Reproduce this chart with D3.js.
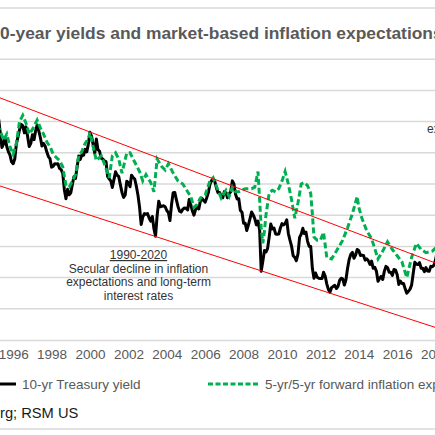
<!DOCTYPE html>
<html>
<head>
<meta charset="utf-8">
<script src="https://cdn.jsdelivr.net/npm/d3@7"></script>
<style>
  html, body { margin: 0; padding: 0; background: #fff; }
  svg { display: block; font-family: "Liberation Sans", Arial, sans-serif; }
</style>
</head>
<body>
<svg id="chart" width="435" height="435"></svg>
<script>
// 10-yr Treasury yield, monthly, starting Jan 1995
const yieldStart = "1995-01";
const treasuryYield = [
  7.78, 7.47, 7.20, 7.06, 6.63, 6.17, 6.28, 6.49, 6.20, 6.04, 5.93, 5.71,
  5.65, 5.81, 6.27, 6.51, 6.74, 6.91, 6.87, 6.64, 6.83, 6.53, 6.20, 6.30,
  6.58, 6.42, 6.69, 6.89, 6.71, 6.49, 6.22, 6.30, 6.21, 6.03, 5.88, 5.81,
  5.54, 5.57, 5.65, 5.64, 5.65, 5.50, 5.46, 5.34, 4.81, 4.53, 4.83, 4.65,
  4.72, 5.00, 5.23, 5.18, 5.54, 5.90, 5.79, 5.94, 5.92, 6.11, 6.03, 6.28,
  6.66, 6.52, 6.26, 5.99, 6.44, 6.10, 6.05, 5.83, 5.80, 5.74, 5.72, 5.24,
  5.16, 5.10, 4.89, 5.14, 5.39, 5.28, 5.24, 4.97, 4.73, 4.57, 4.65, 5.09,
  5.04, 4.91, 5.28, 5.21, 5.16, 4.93, 4.65, 4.26, 3.70, 3.94, 4.05, 4.03,
  4.05, 3.90, 3.81, 3.96, 3.57, 3.33, 3.98, 4.45, 4.27, 4.29, 4.30, 4.27,
  4.15, 4.08, 3.83, 4.35, 4.72, 4.73, 4.50, 4.28, 4.13, 4.10, 4.19, 4.23,
  4.22, 4.17, 4.50, 4.34, 4.14, 4.00, 4.18, 4.26, 4.20, 4.46, 4.54, 4.47,
  4.42, 4.57, 4.72, 4.99, 5.11, 5.11, 5.09, 4.88, 4.72, 4.73, 4.60, 4.56,
  4.76, 4.72, 4.56, 4.69, 4.75, 5.10, 5.00, 4.67, 4.52, 4.53, 4.15, 4.10,
  3.74, 3.74, 3.51, 3.68, 3.88, 4.10, 4.01, 3.89, 3.69, 3.81, 3.53, 2.20,
  2.52, 2.87, 2.82, 2.93, 3.29, 3.72, 3.56, 3.59, 3.40, 3.39, 3.40, 3.59,
  3.73, 3.69, 3.73, 3.85, 3.42, 3.20, 3.01, 2.70, 2.65, 2.54, 2.76, 3.29,
  3.39, 3.58, 3.41, 3.46, 3.17, 3.00, 3.00, 2.30, 1.98, 2.15, 2.01, 1.98,
  1.97, 1.97, 2.17, 2.05, 1.80, 1.62, 1.53, 1.68, 1.72, 1.75, 1.65, 1.72,
  1.91, 1.98, 1.96, 1.76, 1.93, 2.30, 2.58, 2.74, 2.81, 2.62, 2.72, 2.90,
  2.86, 2.71, 2.72, 2.71, 2.56, 2.60, 2.54, 2.42, 2.53, 2.30, 2.33, 2.21,
  1.88, 1.98, 2.04, 1.94, 2.20, 2.36, 2.32, 2.17, 2.17, 2.07, 2.26, 2.24,
  2.09, 1.78, 1.89, 1.81, 1.81, 1.64, 1.50, 1.56, 1.63, 1.76, 2.14, 2.49,
  2.43, 2.42, 2.48, 2.30, 2.30, 2.19, 2.32, 2.21, 2.20, 2.36, 2.35, 2.40,
  2.58, 2.86
];

// 5-yr/5-yr forward inflation expectations
const expDates = [
  "1995-03", "1995-05", "1995-07", "1995-09", "1995-11",
  "1996-01", "1996-03", "1996-05", "1996-07", "1996-09", "1996-11",
  "1997-01", "1997-04", "1997-06", "1997-08", "1997-10", "1997-12",
  "1998-02", "1998-04", "1998-06", "1998-08", "1998-10", "1998-12",
  "1999-02", "1999-04", "1999-06", "1999-08", "1999-10", "1999-12",
  "2000-01", "2000-03", "2000-05", "2000-08", "2000-10",
  "2001-01", "2001-03", "2001-05", "2001-07", "2001-09", "2001-12",
  "2002-02", "2002-04", "2002-06", "2002-08", "2002-10", "2002-12",
  "2003-03", "2003-05", "2003-07", "2003-10", "2003-12",
  "2004-02", "2004-05", "2004-08", "2004-11",
  "2005-02", "2005-04", "2005-06", "2005-08", "2005-10",
  "2006-01", "2006-04", "2006-06", "2006-09", "2006-11",
  "2007-02", "2007-04", "2007-06", "2007-08", "2007-10",
  "2008-02", "2008-06", "2008-08", "2008-10", "2008-11", "2008-12",
  "2009-01", "2009-02", "2009-03", "2009-05", "2009-07", "2009-09", "2009-11",
  "2010-01", "2010-03", "2010-05", "2010-07", "2010-09", "2010-11",
  "2011-01", "2011-03", "2011-05", "2011-07", "2011-08", "2011-09", "2011-11",
  "2012-01", "2012-03", "2012-05", "2012-08", "2012-11",
  "2013-03", "2013-06", "2013-09", "2013-12",
  "2014-01", "2014-03", "2014-06", "2014-09",
  "2015-01", "2015-04", "2015-07", "2015-10",
  "2016-01", "2016-04", "2016-07", "2016-10",
  "2017-01", "2017-04", "2017-07", "2017-11", "2018-02"
];
const expValues = [
  6.9, 6.7, 6.4, 6.6, 6.2,
  5.95, 6.3, 7.0, 7.2, 6.95, 6.6,
  6.75, 7.05, 6.8, 6.6, 6.35, 6.2,
  5.95, 5.85, 5.75, 5.55, 4.95, 4.9,
  5.1, 5.3, 5.9, 6.05, 6.3, 6.45,
  6.65, 6.2, 5.75, 5.9, 5.65,
  5.2, 5.9, 6.0, 5.8, 5.35, 6.0,
  6.0, 5.8, 5.6, 5.4, 5.1, 5.3,
  5.05, 4.75, 5.8, 5.55, 5.45,
  5.65, 5.35, 5.1, 5.0,
  4.75, 4.6, 4.25, 4.35, 4.55,
  4.65, 5.1, 5.2, 4.8, 4.55,
  4.8, 4.6, 4.9, 4.75, 4.75,
  4.85, 4.85, 4.9, 5.4, 4.5, 3.6,
  3.1, 3.5, 4.0, 4.7, 4.8, 4.75, 4.85,
  5.1, 5.4, 5.0, 4.5, 3.9, 4.4,
  5.0, 5.05, 4.95, 4.7, 4.05, 3.3, 3.2,
  3.2, 3.45, 2.65, 2.6, 2.85,
  3.2, 3.6, 4.05, 4.6,
  4.25, 3.9, 3.5, 3.25,
  2.6, 2.85, 3.15, 2.9,
  2.7, 2.5, 2.0, 2.65,
  3.1, 2.9, 2.8, 2.85, 3.0
];

// 1990-2020 channel
const trendDates = ["1990-01", "2020-01"];
const upperTrend = [9, 2];
const lowerTrend = [6, 0];

const tickYears = [1990, 1992, 1994, 1996, 1998, 2000, 2002, 2004, 2006,
  2008, 2010, 2012, 2014, 2016, 2018, 2020];
const gridValues = [1, 2, 3, 4, 5, 6, 7, 8, 9];

const parseMonth = d3.timeParse("%Y-%m");

const svg = d3.select("#chart");
const W = 435;

const x = d3.scaleTime()
  .domain([new Date(1990, 0, 1), new Date(2020, 0, 1)])
  .range([-102, 474]);

const y = d3.scaleLinear()
  .domain([0, 9])
  .range([340, 59.2]);

const start = parseMonth(yieldStart);
const yieldData = treasuryYield.map((v, i) => ({ date: d3.timeMonth.offset(start, i), value: v }));
const expData = expDates.map((d, i) => ({ date: parseMonth(d), value: expValues[i] }));
const upperData = trendDates.map((d, i) => ({ date: parseMonth(d), value: upperTrend[i] }));
const lowerData = trendDates.map((d, i) => ({ date: parseMonth(d), value: lowerTrend[i] }));

// frame rules
svg.append("line")
  .attr("x1", 0).attr("x2", W).attr("y1", 8).attr("y2", 8)
  .attr("stroke", "#d9d9d9").attr("stroke-width", 1.5);
svg.append("line")
  .attr("x1", 0).attr("x2", W).attr("y1", 429).attr("y2", 429)
  .attr("stroke", "#d9d9d9").attr("stroke-width", 1.5);

// title, the leading "1" sits outside the crop
const title = svg.append("text")
  .attr("y", 39)
  .attr("font-size", 17.4)
  .attr("font-weight", "bold")
  .attr("fill", "#595959")
  .text("10-year yields and market-based inflation expectations");
title.attr("x", -title.node().getSubStringLength(0, 1));

// gridlines
svg.append("g")
  .selectAll("line")
  .data(gridValues)
  .enter()
  .append("line")
  .attr("x1", 0).attr("x2", W)
  .attr("y1", d => y(d)).attr("y2", d => y(d))
  .attr("stroke", "#d9d9d9")
  .attr("stroke-width", 1.5);

// x axis
const xAxis = svg.append("g")
  .attr("transform", `translate(0,${y(0)})`)
  .call(d3.axisBottom(x)
    .tickValues(tickYears.map(yr => new Date(yr, 0, 1)))
    .tickFormat(d3.timeFormat("%Y"))
    .tickSize(0)
    .tickPadding(9.4));
xAxis.select(".domain").attr("stroke", "#d9d9d9").attr("stroke-width", 1.5);
xAxis.selectAll("text")
  .attr("font-size", 13.5)
  .attr("font-family", "Liberation Sans, Arial, sans-serif")
  .attr("fill", "#595959");

const line = d3.line()
  .x(d => x(d.date))
  .y(d => y(d.value));

svg.append("path")
  .datum(yieldData)
  .attr("d", line)
  .attr("fill", "none")
  .attr("stroke", "#000")
  .attr("stroke-width", 3)
  .attr("stroke-linejoin", "round");

svg.append("path")
  .datum(expData)
  .attr("d", line)
  .attr("fill", "none")
  .attr("stroke", "#00b050")
  .attr("stroke-width", 3)
  .attr("stroke-dasharray", "6,3");

[upperData, lowerData].forEach(td => {
  svg.append("path")
    .datum(td)
    .attr("d", line)
    .attr("fill", "none")
    .attr("stroke", "#ff0000")
    .attr("stroke-width", 1);
});

// annotation
const note = svg.append("g")
  .attr("font-size", 12)
  .attr("fill", "#333")
  .attr("text-anchor", "middle");
note.append("text")
  .attr("x", 138.5).attr("y", 259)
  .style("text-decoration", "underline")
  .text("1990-2020");
["Secular decline in inflation", "expectations and long-term", "interest rates"]
  .forEach((t, i) => {
    note.append("text")
      .attr("x", 138.5)
      .attr("y", 272.5 + i * 13.5)
      .text(t);
  });

svg.append("text")
  .attr("x", 427).attr("y", 133)
  .attr("font-size", 12)
  .attr("fill", "#333")
  .text("expectations");

// legend
svg.append("line")
  .attr("x1", -40).attr("x2", 16).attr("y1", 384).attr("y2", 384)
  .attr("stroke", "#000").attr("stroke-width", 3);
svg.append("text")
  .attr("x", 22).attr("y", 388.5)
  .attr("font-size", 13.5).attr("fill", "#595959")
  .text("10-yr Treasury yield");
svg.append("line")
  .attr("x1", 208).attr("x2", 259).attr("y1", 384).attr("y2", 384)
  .attr("stroke", "#00b050").attr("stroke-width", 3)
  .attr("stroke-dasharray", "5,2.5");
svg.append("text")
  .attr("x", 265).attr("y", 388.5)
  .attr("font-size", 13.5).attr("fill", "#595959")
  .text("5-yr/5-yr forward inflation expectations");

// source
const source = svg.append("text")
  .attr("y", 418)
  .attr("font-size", 14.7)
  .attr("fill", "#1a1a1a")
  .text("Source: Bloomberg; RSM US");
source.attr("x", -source.node().getSubStringLength(0, "Source: Bloombe".length));
</script>
</body>
</html>
